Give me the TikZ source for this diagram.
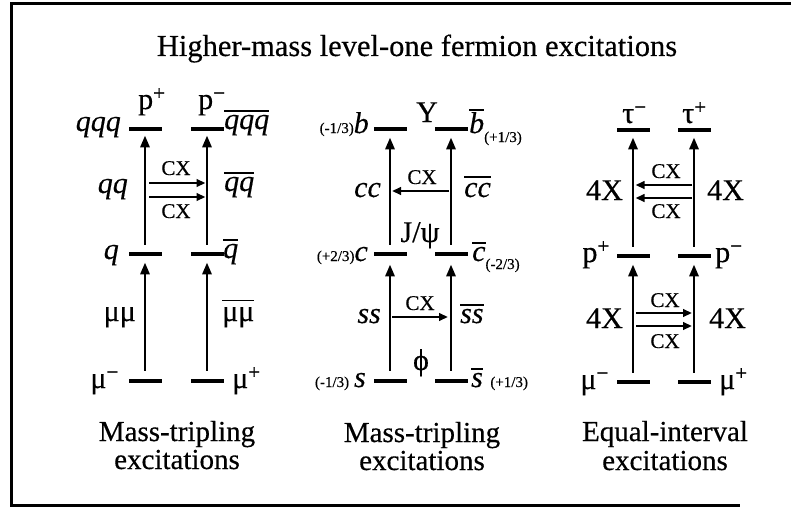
\documentclass[tikz,border=0pt]{standalone}
\usepackage{fontspec}
\setmainfont{Liberation Serif}[FakeBold=0.4]
\usetikzlibrary{arrows.meta}
\newcommand\myovl[2][3pt]{\vbox{\hrule height 1.6pt\kern#1\hbox{#2}}}
\newcommand\fr[1]{{\fontsize{15}{15}\selectfont #1}}
\begin{document}
\begin{tikzpicture}[x=1pt,y=-1pt,
  bar/.style={fill=black, inner sep=0pt, minimum width=33pt, minimum height=4.4pt},
  up/.style={line width=2.9pt, -{Triangle[length=12pt,width=9pt]}},
  cx/.style={line width=2.6pt, -{Triangle[length=9pt,width=7.5pt]}},
  lab/.style={inner sep=0pt, font=\fontsize{30}{30}\selectfont},
  cxl/.style={inner sep=0pt, font=\fontsize{21}{21}\selectfont},
  captxt/.style={inner sep=0pt, font=\fontsize{29}{29}\selectfont},
  frm/.style={line width=3pt}
]
\useasboundingbox (0,0) rectangle (791,508);
\draw[frm] (11,506) -- (11,4) -- (791,4);
\draw[frm] (10,505) -- (740,505);

\node[inner sep=0pt, font=\fontsize{30.5}{30}\selectfont, anchor=base] (title) at (417,56) {Higher-mass level-one fermion excitations};

% ---------- Panel A ----------
\foreach \n/\x in {l/145, r/207} {
  \node[bar] (a0\n) at (\x,381) {};
  \node[bar] (a1\n) at (\x,254) {};
  \node[bar] (a2\n) at (\x,129) {};
}
\foreach \n in {l,r} {
  \draw[up] ([yshift=8pt]a0\n.north) -- ([yshift=-6pt]a1\n.south);
  \draw[up] ([yshift=7pt]a1\n.north) -- ([yshift=-4pt]a2\n.south);
}
\coordinate (acx1s) at (149,183); \coordinate (acx1e) at (205.5,183);
\coordinate (acx2s) at (149,197); \coordinate (acx2e) at (205.5,197);
\draw[cx] (acx1s) -- (acx1e);
\draw[cx] (acx2s) -- (acx2e);
\node[cxl, anchor=base] (acxa) at (176,175) {CX};
\node[cxl, anchor=base] (acxb) at (176,218) {CX};

\node[lab, anchor=base east] (qqq) at (121,131) {\itshape qqq};
\node[lab, anchor=base west] (qqqb) at (224,129) {\myovl{\itshape qqq}};
\node[lab, anchor=base west] (pp) at (138,109) {p\textsuperscript{+}};
\node[lab, anchor=base west] (pm) at (198,109) {p\textsuperscript{−}};
\node[lab, anchor=base east] (qq) at (128,193) {\itshape qq};
\node[lab, anchor=base west] (qqb) at (224,191) {\myovl{\itshape qq}};
\node[lab, anchor=base east] (q) at (119,259) {\itshape q};
\node[lab, anchor=base west] (qb) at (223,258) {\myovl{\itshape q}};
\node[lab, anchor=base east] (mumu) at (136,321) {μμ};
\node[lab, anchor=base west] (mumub) at (222,321) {\myovl[6pt]{μμ}};
\node[lab, anchor=base east] (mum) at (119,388) {μ\textsuperscript{−}};
\node[lab, anchor=base west] (mup) at (232,388) {μ\textsuperscript{+}};
\node[captxt, anchor=base] (capa1) at (177,441) {Mass-tripling};
\node[captxt, anchor=base] (capa2) at (177,469) {excitations};

% ---------- Panel B ----------
\foreach \n/\x in {l/390, r/451} {
  \node[bar] (b0\n) at (\x,381) {};
  \node[bar] (b1\n) at (\x,254) {};
  \node[bar] (b2\n) at (\x,129) {};
}
\foreach \n in {l,r} {
  \draw[up] ([yshift=8pt]b0\n.north) -- ([yshift=-8pt]b1\n.south);
  \draw[up] ([yshift=7pt]b1\n.north) -- ([yshift=-6pt]b2\n.south);
}
\coordinate (bcx1s) at (449,191); \coordinate (bcx1e) at (392,191);
\coordinate (bcx2s) at (392,317); \coordinate (bcx2e) at (448,317);
\draw[cx] (bcx1s) -- (bcx1e);
\draw[cx] (bcx2s) -- (bcx2e);
\node[cxl, anchor=base] (bcxa) at (422,184) {CX};
\node[cxl, anchor=base] (bcxb) at (420,310) {CX};

\node[lab, anchor=base east] (bq) at (369,133) {\fr{(-1/3)}\itshape b};
\node[lab, anchor=base] (ups) at (427,122) {Υ};
\node[lab, anchor=base west] (bbar) at (469,133) {\myovl[1.5pt]{\itshape b}\raisebox{-9pt}{\fr{(+1/3)}}};
\node[lab, anchor=base east] (cc) at (381,197) {\itshape cc};
\node[lab, anchor=base west] (ccb) at (464,197) {\myovl[5pt]{\itshape cc}};
\node[lab, anchor=base] (jpsi) at (420,242) {J/ψ};
\node[lab, anchor=base east] (cq) at (368,261) {\fr{(+2/3)}\itshape c};
\node[lab, anchor=base west] (cbar) at (472,261) {\myovl{\itshape c}\raisebox{-8pt}{\fr{(-2/3)}}};
\node[lab, anchor=base east] (ss) at (381,323) {\itshape ss};
\node[lab, anchor=base west] (ssb) at (460,323) {\myovl{\itshape ss}};
\node[lab, anchor=base] (phi) at (421,370) {ϕ};
\node[lab, anchor=base east] (sq) at (366,387) {\fr{(-1/3)}\,\itshape s};
\node[lab, anchor=base west] (sbar) at (471,387) {\myovl{\itshape s}\ \fr{(+1/3)}};
\node[captxt, anchor=base] (capb1) at (422,442) {Mass-tripling};
\node[captxt, anchor=base] (capb2) at (422,470) {excitations};

% ---------- Panel C ----------
\foreach \n/\x in {l/633, r/694} {
  \node[bar] (c0\n) at (\x,382) {};
  \node[bar] (c1\n) at (\x,256) {};
  \node[bar] (c2\n) at (\x,130) {};
}
\foreach \n in {l,r} {
  \draw[up] ([yshift=7pt]c0\n.north) -- ([yshift=-6pt]c1\n.south);
  \draw[up] ([yshift=7pt]c1\n.north) -- ([yshift=-5pt]c2\n.south);
}
\coordinate (ccx1s) at (692,185); \coordinate (ccx1e) at (635.5,185);
\coordinate (ccx2s) at (692,198); \coordinate (ccx2e) at (635.5,198);
\coordinate (ccx3s) at (636,313); \coordinate (ccx3e) at (692,313);
\coordinate (ccx4s) at (636,326); \coordinate (ccx4e) at (692,326);
\draw[cx] (ccx1s) -- (ccx1e);
\draw[cx] (ccx2s) -- (ccx2e);
\draw[cx] (ccx3s) -- (ccx3e);
\draw[cx] (ccx4s) -- (ccx4e);
\node[cxl, anchor=base] (ccxa) at (666,178) {CX};
\node[cxl, anchor=base] (ccxb) at (666,218) {CX};
\node[cxl, anchor=base] (ccxc) at (665,307) {CX};
\node[cxl, anchor=base] (ccxd) at (665,348) {CX};

\node[lab, anchor=base west] (taum) at (622,123) {τ\textsuperscript{−}};
\node[lab, anchor=base west] (taup) at (682,123) {τ\textsuperscript{+}};
\node[lab, anchor=base east] (fxa) at (623,200) {4X};
\node[lab, anchor=base west] (fxb) at (707,200) {4X};
\node[lab, anchor=base east] (ppc) at (610,262) {p\textsuperscript{+}};
\node[lab, anchor=base west] (pmc) at (715,262) {p\textsuperscript{−}};
\node[lab, anchor=base east] (fxc) at (623,328) {4X};
\node[lab, anchor=base west] (fxd) at (709,328) {4X};
\node[lab, anchor=base east] (mumc) at (609,389) {μ\textsuperscript{−}};
\node[lab, anchor=base west] (mupc) at (719,389) {μ\textsuperscript{+}};
\node[captxt, anchor=base] (capc1) at (665,441) {Equal-interval};
\node[captxt, anchor=base] (capc2) at (665,470) {excitations};
\end{tikzpicture}
\end{document}
